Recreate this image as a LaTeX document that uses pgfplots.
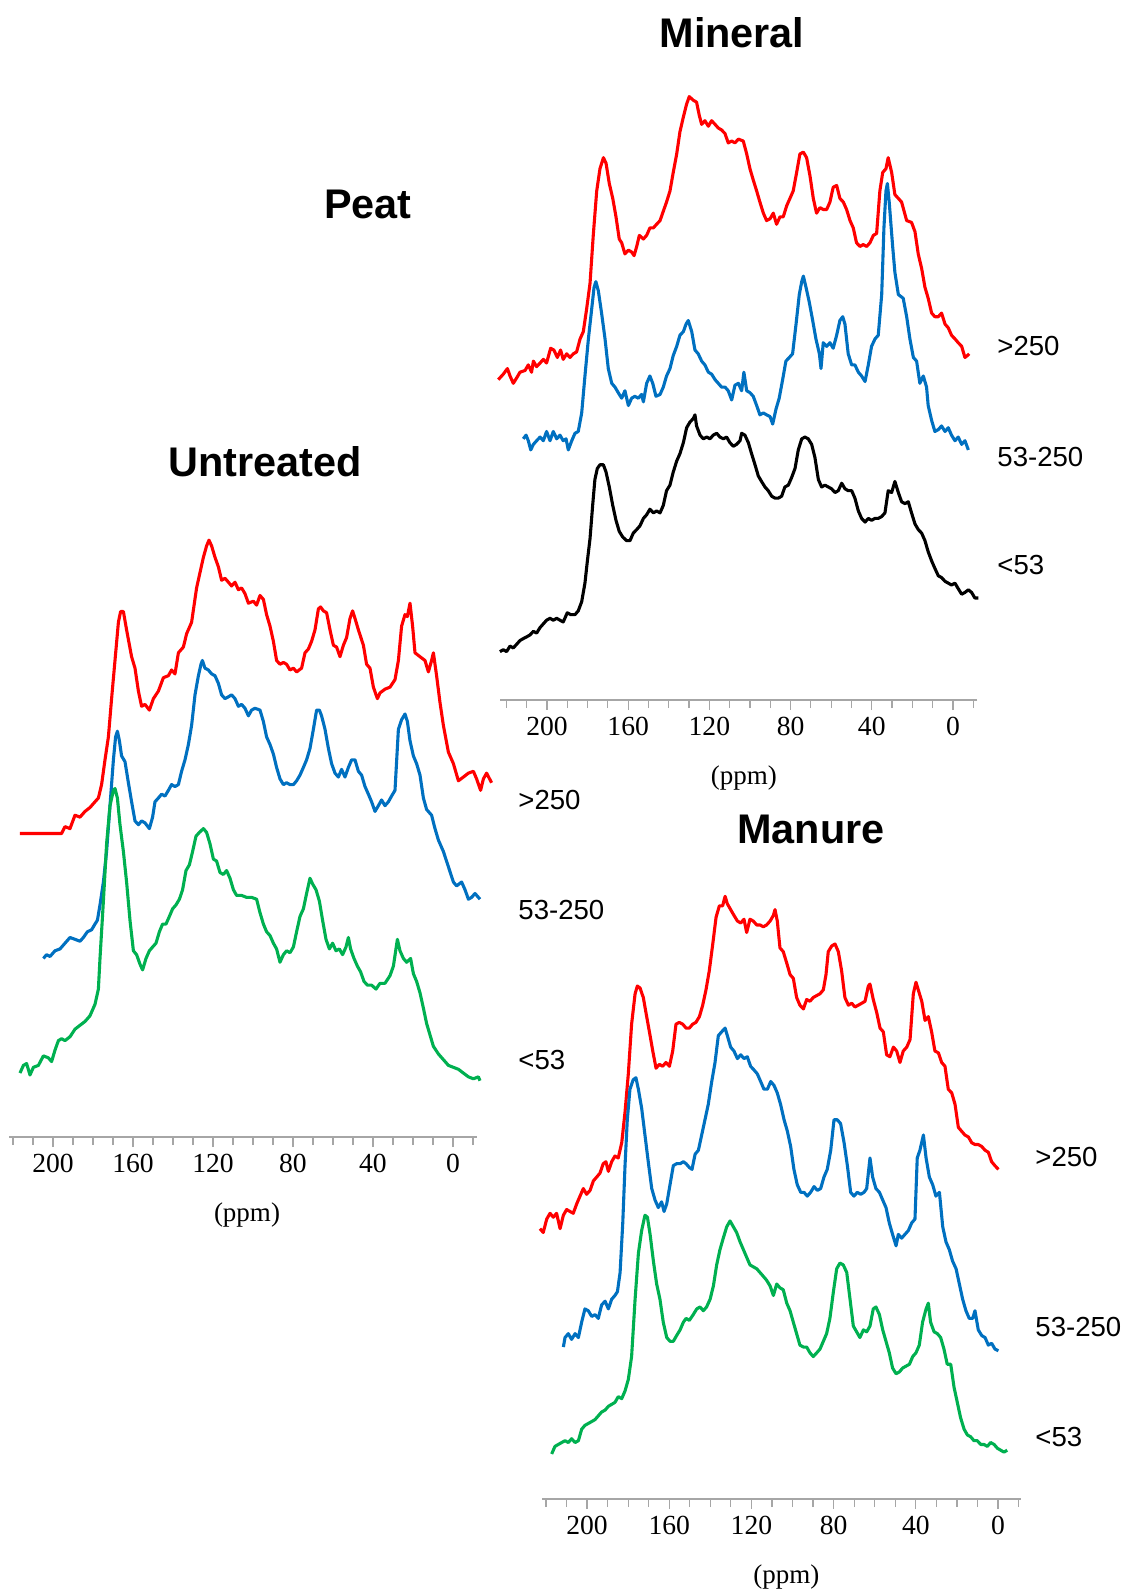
\documentclass[border=0pt]{standalone}
\usepackage{fontspec}
\setmainfont{Liberation Serif}
\newfontfamily\arial{Liberation Sans}
\usepackage{pgfplots}
\pgfplotsset{compat=1.18}
\definecolor{cred}{HTML}{FF0000}
\definecolor{cblue}{HTML}{0070C0}
\definecolor{cgreen}{HTML}{00B050}
\definecolor{axgray}{HTML}{A6A6A6}
\pgfplotsset{nmr/.style={scale only axis, clip=false, x dir=reverse,
  axis y line=none, axis x line=bottom,
  x axis line style={-, draw=axgray, line width=0.6pt},
  tick align=outside, xtick={0,40,...,200},
  minor xtick={-10,10,20,30,50,60,70,90,100,110,130,140,150,170,180,190,210,220},
  major tick length=5pt, minor tick length=4pt,
  tick style={draw=axgray, line width=0.6pt},
  xticklabel style={font=\fontsize{13.8}{14}\selectfont, text=black},
  /pgf/number format/assume math mode=true,
  ytick=\empty, anchor=south west},
  spec/.style={line width=1.55pt, line join=round, mark=none}}
\begin{document}
\begin{tikzpicture}
\useasboundingbox (0,0) rectangle (562.5pt,-797pt);
% ---------------- Untreated ----------------
\begin{axis}[nmr, at={(4.5pt,-568.5pt)}, width=234pt, height=320.9pt,
  xmin=-12, xmax=222, ymin=81.2, ymax=641.2]
\addplot[spec, cred] coordinates {(216.5,346) (195.7,346) (194.0,352) (191.5,350.3) (189.0,362) (186.5,360.3) (184.0,365.3) (181.5,368.7) (179.0,373.7) (177.3,377) (175.7,388.7) (174.0,410.3) (172.3,430.3) (170.7,463.7) (169.0,497) (167.3,530.3) (166.2,539.7) (164.8,539.7) (163.2,523.7) (160.7,500.3) (159.0,490.3) (157.3,470.3) (155.7,457) (154.0,458.7) (151.8,453.7) (149.8,463.7) (147.3,470.3) (144.8,482) (142.3,483.7) (140.7,488.7) (139.0,485.3) (137.3,503.7) (134.8,508.7) (133.2,520.3) (130.7,530.3) (128.2,560.3) (126.5,573.7) (124.8,587) (123.2,597) (122.0,602) (120.7,597) (119.0,587) (117.3,578.7) (115.7,567) (114.0,568.7) (112.3,565.3) (110.7,562) (109.0,565.3) (107.3,558.7) (105.7,560.3) (104.0,555.3) (102.3,547) (99.8,548.7) (98.2,545.3) (96.5,553.7) (94.8,550.3) (93.2,537) (91.5,527) (89.8,513.7) (88.2,497) (86.5,493.7) (84.8,495.3) (83.2,493.7) (81.5,488.7) (79.8,490.3) (78.2,487) (75.7,490.3) (74.0,503.7) (72.3,507) (70.7,513.7) (69.0,523.7) (67.3,542) (66.2,543.7) (64.8,540.3) (63.2,538.7) (61.5,523.7) (59.8,510.3) (58.2,508.7) (56.5,500.3) (54.8,510.3) (53.2,517) (51.5,533.7) (50.2,540.3) (49.0,533.7) (47.3,523.7) (44.8,510.3) (43.2,493.7) (41.5,490.3) (39.8,473.7) (37.8,463.7) (36.5,468.7) (34.0,472) (31.5,473.7) (29.0,480.3) (27.3,497) (25.7,527) (24.0,537) (22.8,535.3) (21.5,547) (20.2,527) (19.0,503.7) (16.5,500.3) (14.0,497) (12.3,487) (10.7,497) (9.8,503.7) (8.2,483.7) (6.5,460.3) (4.8,440.3) (2.3,417) (-0.2,407) (-2.7,392) (-5.2,395.3) (-7.7,398.7) (-10.2,400.3) (-11.8,393.7) (-13.8,383.7) (-15.2,393.7) (-16.8,398.7) (-19.3,390.3)};
\addplot[spec, cblue] coordinates {(204.8,237) (203.2,240.3) (201.5,238.7) (199.0,243.7) (196.5,245.3) (194.0,250.3) (191.5,255.3) (189.0,253.7) (186.5,252) (184.8,255.3) (182.8,260.3) (180.7,262) (179.0,267) (177.8,270.3) (176.5,283.7) (174.8,303.7) (173.2,330.3) (171.5,370.3) (169.8,410.3) (168.7,430.3) (167.8,435.3) (166.8,427) (165.7,413.7) (164.0,408.7) (162.3,390.3) (160.7,373.7) (159.0,357) (157.3,353.7) (155.7,357) (154.0,355.3) (151.8,350.3) (150.2,360.3) (149.0,373.7) (147.3,377) (145.7,380.3) (144.0,378.7) (142.3,383.7) (140.7,388.7) (139.0,387) (137.3,388.7) (135.7,400.3) (134.0,410.3) (132.3,423.7) (130.7,440.3) (129.0,467) (127.3,483.7) (126.0,493.7) (125.3,497) (124.0,490.3) (122.3,488.7) (120.7,485.3) (119.0,483.7) (117.3,477) (115.7,467) (114.0,463.7) (112.3,465.3) (110.7,467) (109.0,463.7) (107.3,457) (105.7,458.7) (104.0,455.3) (102.3,448.7) (100.7,453.7) (99.0,455.3) (96.5,453.7) (94.8,443.7) (93.2,430.3) (91.5,423.7) (89.8,415.3) (88.2,403.7) (86.5,393.7) (84.8,388.7) (83.2,390.3) (81.5,388.7) (79.8,388.7) (78.2,392) (76.5,397) (74.8,403.7) (73.2,410.3) (71.5,420.3) (69.8,437) (68.2,453.7) (66.8,453.7) (65.7,448.7) (64.0,437) (62.3,420.3) (60.7,407) (59.0,398.7) (57.3,395.3) (55.7,402) (54.0,395.3) (52.3,403.7) (50.7,410.3) (49.0,410.3) (47.3,400.3) (45.7,397) (44.0,387) (42.3,380.3) (40.7,373.7) (39.0,365.3) (37.3,370.3) (35.7,375.3) (34.0,370.3) (32.3,373.7) (30.7,378.7) (29.0,383.7) (27.3,437) (25.7,445.3) (24.0,450.3) (22.8,443.7) (21.5,427) (19.8,413.7) (18.2,407) (16.5,397) (14.8,377) (13.2,367) (10.7,362) (9.0,350.3) (7.3,340.3) (4.8,330.3) (2.3,317) (-0.2,303.7) (-1.8,300.3) (-4.3,303.7) (-6.0,297) (-7.7,288.7) (-9.3,290.3) (-11.0,293.7) (-13.5,288.7)};
\addplot[spec, cgreen] coordinates {(216.5,137) (214.8,143.7) (213.2,145.3) (211.5,135.3) (209.8,142) (207.3,143.7) (204.8,152) (202.3,150.3) (200.7,147) (199.0,157) (197.3,165.3) (195.7,167) (194.0,165.3) (191.5,168.7) (189.0,175.3) (186.5,178.7) (184.0,182) (181.5,187) (179.0,197) (177.3,210.3) (176.5,237) (174.8,287) (173.2,337) (171.5,370.3) (169.8,383.7) (169.0,385.3) (167.8,377) (166.5,353.7) (164.8,330.3) (163.2,303.7) (161.5,270.3) (159.8,243.7) (158.2,240.3) (156.5,232) (155.2,227) (153.5,237) (151.8,243.7) (150.2,247) (148.5,250.3) (146.8,260.3) (145.2,267) (143.5,267) (141.8,273.7) (140.2,280.3) (138.5,283.7) (136.8,288.7) (135.2,297) (133.5,313.7) (131.8,318.7) (130.2,330.3) (128.5,343.7) (126.8,347) (124.8,350.3) (123.2,347) (121.5,337) (119.8,323.7) (118.2,322) (116.5,312) (114.8,310.3) (113.2,313.7) (111.5,307) (109.8,297) (108.2,292) (105.7,292) (103.2,290.3) (100.7,290.3) (98.2,288.7) (96.5,277) (94.8,267) (93.2,260.3) (91.5,257) (89.8,250.3) (88.2,245.3) (86.5,233.7) (84.8,240.3) (83.2,243.7) (81.5,242) (79.8,247) (78.2,260.3) (76.5,273.7) (74.8,280.3) (73.2,293.7) (71.5,307) (70.2,302) (68.5,297) (66.8,287) (65.2,270.3) (63.5,253.7) (61.8,245.3) (60.2,250.3) (58.5,243.7) (56.8,245.3) (55.2,240.3) (53.5,247) (52.3,255.3) (51.2,245.3) (49.5,237) (47.8,230.3) (46.2,225.3) (44.5,217) (42.8,213.7) (40.7,213.7) (38.5,210.3) (36.5,215.3) (34.0,215.3) (31.5,222) (29.8,230.3) (27.8,253.7) (26.5,243.7) (24.8,237) (23.2,233.7) (21.2,237) (19.8,223.7) (18.2,217) (16.5,207) (14.8,193.7) (13.2,180.3) (11.5,170.3) (9.8,160.3) (7.3,153.7) (4.8,148.7) (2.3,143.7) (-0.2,142) (-2.7,140.3) (-5.2,137) (-7.7,133.7) (-10.2,132) (-12.7,133.7) (-13.5,130.3)};
\node[font=\fontsize{13.5}{14}\selectfont, yshift=-39pt] at (axis cs:103,81.2) {(ppm)};
\end{axis}
% ---------------- Mineral ----------------
\begin{axis}[nmr, at={(250.15pt,-350pt)}, width=238.5pt, height=310.8pt,
  xmin=-12, xmax=223, ymin=61.4, ymax=621.4]
\addplot[spec, cred] coordinates {(224.0,350) (221.5,355) (219.5,360) (218.2,353.3) (216.6,346.7) (214.9,351.7) (213.3,356.7) (210.8,358.3) (209.2,363.3) (207.6,356.7) (206.7,366.7) (205.1,361.7) (203.4,365) (201.8,368.3) (200.2,365) (198.2,378.3) (196.6,376.7) (194.9,370) (193.3,376.7) (192.0,368.3) (190.3,373.3) (188.7,370) (187.0,373.3) (185.4,375) (183.7,386.7) (182.1,393.3) (180.5,413.3) (178.8,436.7) (177.2,480) (175.5,520) (173.9,540) (172.2,550) (170.9,545) (169.3,526.7) (167.6,513.3) (166.0,496.7) (164.4,476.7) (163.2,473.3) (161.6,463.3) (159.9,466.7) (158.3,465) (157.1,461.7) (155.8,470) (154.5,480) (152.5,476.7) (150.9,480) (149.3,486.7) (147.6,486.7) (146.0,490) (144.3,493.3) (142.7,501.7) (141.1,510) (139.4,520) (137.8,536.7) (136.1,553.3) (134.5,573.3) (132.8,586.7) (131.2,598.3) (129.9,605) (127.9,601.7) (126.3,600) (125.0,588.3) (123.8,580) (122.2,583.3) (120.5,578.3) (118.9,583.3) (117.2,580) (115.6,576.7) (114.0,575) (112.3,571.7) (110.7,563.3) (109.0,565) (107.4,563.3) (105.7,566.7) (103.3,565) (101.6,553.3) (100.0,540) (98.4,530) (96.7,520) (95.1,510) (93.4,500) (91.8,493.3) (90.1,495) (88.5,500) (86.9,490) (85.2,496.7) (83.6,496.7) (81.9,506.7) (80.3,513.3) (78.7,520) (77.0,536.7) (75.4,553.3) (73.7,555) (72.1,550) (70.4,533.3) (68.8,513.3) (67.2,500) (65.5,505) (63.9,503.3) (62.2,503.3) (60.6,510) (59.0,523.3) (57.3,525) (55.7,513.3) (54.0,510) (52.4,503.3) (50.7,493.3) (49.1,486.7) (47.5,473.3) (45.8,470) (44.2,471.7) (42.5,470) (40.9,473.3) (39.2,480) (37.6,481.7) (36.0,520) (34.6,536.7) (33.0,540) (31.9,550) (30.2,536.7) (28.6,516.7) (26.9,513.3) (25.3,510) (22.8,493.3) (20.4,491.7) (18.7,483.3) (17.1,463.3) (15.4,450) (13.8,433.3) (12.2,423.3) (10.5,410) (8.9,406.7) (7.2,406.7) (5.6,410) (3.9,400) (2.3,396.7) (0.7,390) (-1.0,386.7) (-2.6,383.3) (-4.3,380) (-5.9,370) (-7.1,371.7) (-8.0,373.3)};
\addplot[spec, cblue] coordinates {(211.7,296.7) (210.3,300) (209.2,295) (208.0,286.7) (206.7,291.7) (205.1,295) (203.4,298.3) (201.8,295) (200.2,303.3) (198.5,295) (196.9,303.3) (195.2,296.7) (193.6,300) (192.0,295) (190.6,296.7) (189.5,286.7) (187.8,295) (186.2,301.7) (184.6,303.3) (182.9,320) (181.3,353.3) (179.6,386.7) (178.0,413.3) (176.8,433.3) (175.9,438.3) (174.7,430) (173.1,410) (171.4,386.7) (169.8,360) (168.1,346.7) (166.5,343.3) (164.9,338.3) (163.2,333.3) (161.6,340) (159.9,326.7) (158.3,333.3) (156.7,335) (155.0,333.3) (153.4,336.7) (152.5,330) (150.9,346.7) (149.3,353.3) (147.9,346.7) (146.3,335) (144.3,336.7) (142.7,343.3) (141.1,353.3) (139.4,360) (137.8,371.7) (136.1,380) (134.5,390) (132.8,393.3) (131.5,400) (130.4,403.3) (128.7,393.3) (127.1,376.7) (125.5,373.3) (123.8,366.7) (122.2,363.3) (120.5,356.7) (118.9,355) (117.2,350) (115.6,346.7) (114.0,343.3) (112.3,343.3) (110.7,340) (109.0,331.7) (107.4,345) (105.7,346.7) (104.1,340) (103.0,356.7) (101.6,340) (100.0,338.3) (98.4,335) (96.7,326.7) (95.1,318.3) (93.4,320) (91.8,318.3) (90.1,316.7) (88.8,310) (87.2,323.3) (85.6,333.3) (83.9,350) (82.3,366.7) (80.6,370) (79.0,373.3) (77.3,400) (75.7,426.7) (74.5,438.3) (73.7,443.3) (72.4,433.3) (70.8,420) (69.1,403.3) (67.5,386.7) (65.8,373.3) (65.0,360) (63.9,383.3) (62.2,380) (60.6,383.3) (59.0,378.3) (57.3,390) (55.7,403.3) (54.3,406.7) (53.2,400) (51.6,373.3) (49.9,363.3) (48.3,363.3) (46.6,356.7) (45.0,353.3) (43.3,348.3) (41.7,363.3) (40.1,380) (38.4,386.7) (36.8,390) (35.1,426.7) (34.0,486.7) (33.0,520) (32.3,526.7) (31.4,510) (29.7,470) (28.6,446.7) (26.9,426.7) (24.5,423.3) (22.8,406.7) (21.2,386.7) (19.5,370) (17.9,366.7) (16.3,346.7) (14.6,353.3) (13.0,343.3) (12.2,326.7) (10.5,313.3) (8.9,303.3) (7.2,305) (5.6,308.3) (3.9,303.3) (2.3,306.7) (0.7,300) (-1.0,295) (-2.6,298.3) (-4.3,291.7) (-5.9,295) (-7.6,286.7)};
\addplot[spec, black] coordinates {(223.2,105) (221.5,106.7) (219.9,105) (218.2,110) (216.6,108.3) (214.9,111.7) (213.3,115) (211.7,116.7) (210.0,118.3) (208.4,120) (206.7,123.3) (205.1,121.7) (203.4,126.7) (201.8,130) (200.2,133.3) (198.5,135) (196.9,133.3) (195.2,135) (193.6,133.3) (192.0,131.7) (190.0,140) (188.3,138.3) (186.2,138.3) (184.6,141.7) (182.9,150) (181.3,166.7) (180.1,186.7) (178.8,206.7) (177.5,236.7) (176.4,260) (175.2,270) (173.9,273.3) (172.2,273.3) (170.9,266.7) (169.3,253.3) (167.6,236.7) (166.0,223.3) (164.4,213.3) (162.7,208.3) (160.8,205) (159.1,205) (157.5,211.7) (155.8,215) (154.2,218.3) (152.5,225) (150.9,228.3) (149.3,233.3) (147.6,230) (146.0,231.7) (144.3,230) (142.7,236.7) (141.1,250) (139.4,255) (137.8,266.7) (136.1,276.7) (134.5,283.3) (132.8,293.3) (131.2,306.7) (129.6,311.7) (127.9,315) (127.1,318.3) (126.3,308.3) (124.6,300) (123.0,296.7) (121.3,298.3) (119.7,296.7) (118.1,300) (116.4,301.7) (114.8,298.3) (113.1,296.7) (111.5,298.3) (109.9,293.3) (108.2,290) (106.6,291.7) (104.9,295) (104.1,301.7) (102.5,300) (100.8,293.3) (99.2,283.3) (97.5,273.3) (95.9,263.3) (94.3,258.3) (92.6,253.3) (91.0,250) (89.3,245) (87.7,243.3) (86.0,243.3) (84.4,245) (82.8,253.3) (81.1,255) (79.5,261.7) (77.8,270) (76.2,286.7) (74.5,296.7) (72.9,298.3) (71.3,296.7) (69.6,291.7) (68.0,280) (66.3,260) (64.7,253.3) (63.1,255) (61.4,253.3) (59.8,251.7) (58.1,248.3) (56.5,250) (54.8,256.7) (53.2,251.7) (51.6,250) (49.9,250) (48.3,243.3) (46.6,231.7) (45.0,225) (43.3,221.7) (41.7,225) (40.1,223.3) (38.4,225) (36.8,225) (35.1,226.7) (33.5,230) (31.9,250) (30.2,248.3) (28.6,258.3) (26.9,248.3) (25.3,240) (23.6,238.3) (22.0,240) (20.4,230) (18.7,220) (17.1,215) (15.4,211.7) (13.8,205) (12.2,195) (10.5,186.7) (8.9,180) (7.2,173.3) (5.6,171.7) (3.9,168.3) (2.3,166.7) (0.7,165) (-1.0,166.7) (-2.6,161.7) (-4.3,156.7) (-5.9,158.3) (-7.6,160.7) (-9.2,158.3) (-10.8,153.3) (-12.5,153.3)};
\node[font=\fontsize{13.5}{14}\selectfont, yshift=-39pt] at (axis cs:103,61.4) {(ppm)};
\end{axis}
% ---------------- Manure ----------------
\begin{axis}[nmr, at={(270.9pt,-749.5pt)}, width=239.4pt, height=320.9pt,
  xmin=-11, xmax=222, ymin=81.4, ymax=641.4]
\addplot[spec, cred] coordinates {(222.9,317.3) (221.3,314) (219.6,325.7) (218.0,330.7) (216.4,327.3) (214.8,330.7) (213.1,317.3) (211.5,329) (209.9,334) (208.3,332.3) (206.7,330.7) (205.0,339) (203.4,345.7) (201.8,352.3) (200.2,347.3) (198.5,350.7) (196.9,359) (195.3,362.3) (193.7,365.7) (192.1,374) (190.8,375.7) (189.6,367.3) (188.0,375.7) (186.4,380.7) (184.8,379) (183.1,392.3) (181.5,419) (179.9,452.3) (178.3,495.7) (176.6,522.3) (175.5,529) (174.2,527.3) (172.6,519) (171.3,505.7) (169.3,485.7) (168.0,472.3) (166.4,457.3) (164.8,460.7) (163.2,459) (161.6,462.3) (159.9,459) (158.3,472.3) (156.7,495.7) (155.1,497.3) (153.4,495.7) (151.8,492.3) (150.2,492.3) (148.6,495.7) (147.0,497.3) (145.3,502.3) (143.7,512.3) (142.1,525.7) (140.5,542.3) (138.8,565.7) (137.2,589) (135.6,599) (134.0,599) (132.8,607.3) (131.7,600.7) (130.1,595.7) (128.5,590.7) (126.8,585.7) (125.2,584) (123.6,587.3) (122.3,575.7) (120.7,587.3) (119.1,585.7) (117.4,582.3) (115.8,582.3) (114.2,580.7) (112.6,582.3) (110.9,585.7) (109.3,590.7) (108.5,595.7) (107.4,585.7) (106.1,562.3) (104.5,559) (102.8,549) (101.2,539) (99.6,535.7) (98.0,519) (96.4,512.3) (94.7,509) (93.1,517.3) (91.5,515.7) (89.9,519) (88.2,520.7) (86.6,522.3) (85.0,525.7) (83.7,539) (82.6,559) (80.9,564) (79.3,565.7) (77.7,559) (76.1,542.3) (74.5,519) (72.8,512.3) (71.2,514) (69.6,510.7) (68.0,512.3) (66.3,514) (64.7,515.7) (63.1,529) (62.3,530.7) (60.7,517.3) (59.0,505.7) (57.4,492.3) (55.8,489) (54.2,469) (52.6,467.3) (50.9,475.7) (49.3,472.3) (47.7,462.3) (46.1,472.3) (44.4,475.7) (42.8,482.3) (41.2,522.3) (39.9,532.3) (38.8,525.7) (37.1,515.7) (35.5,499) (33.9,502.3) (32.3,489) (30.7,472.3) (29.0,470.7) (27.4,462.3) (25.8,459) (24.2,439) (22.5,435.7) (20.9,425.7) (19.3,405.7) (17.7,402.3) (16.1,399) (14.4,397.3) (12.8,392.3) (11.2,390.7) (9.6,390.7) (7.9,389) (6.3,385.7) (4.7,384) (3.1,375.7) (1.5,372.3) (-0.2,369)};
\addplot[spec, cblue] coordinates {(211.5,214) (210.7,222.3) (209.1,225.7) (207.5,220.7) (205.8,225.7) (204.2,222.3) (202.6,235.7) (201.0,247.3) (199.4,245.7) (197.7,240.7) (196.1,242.3) (194.5,239) (192.9,250.7) (191.2,254) (189.6,247.3) (188.0,255.7) (186.4,259) (185.2,262.3) (183.9,279) (182.6,322.3) (181.5,372.3) (180.4,412.3) (179.1,439) (177.5,447.3) (176.2,449) (175.0,439) (173.4,422.3) (171.8,399) (170.2,375.7) (168.5,352.3) (166.9,342.3) (165.3,335.7) (163.7,340.7) (162.5,332.3) (161.2,339) (159.6,355.7) (158.0,372.3) (156.4,374) (154.7,374) (153.1,375.7) (151.8,374) (150.2,370.7) (148.9,369) (147.4,382.3) (145.8,385.7) (144.2,399) (142.6,412.3) (141.0,425.7) (139.3,445.7) (137.7,462.3) (136.1,485.7) (134.5,489) (132.8,492.3) (131.7,485.7) (130.1,475.7) (128.5,472.3) (126.8,465.7) (125.2,469) (123.6,465.7) (122.0,467.3) (120.4,459) (118.7,455.7) (117.1,452.3) (115.5,445.7) (113.9,439) (112.2,439) (110.6,445.7) (109.0,442.3) (107.4,435.7) (105.8,425.7) (104.1,412.3) (102.5,402.3) (100.9,389) (99.3,369) (97.7,355.7) (96.0,349) (94.4,349) (92.8,345.7) (91.2,349) (89.5,354) (87.9,350.7) (86.3,352.3) (84.7,362.3) (83.1,369) (81.4,385.7) (79.8,412.3) (78.2,412.3) (76.6,409) (74.9,392.3) (73.3,372.3) (71.7,349) (70.1,345.7) (68.5,349) (66.8,347.3) (65.2,349) (63.9,352.3) (62.3,379) (61.0,362.3) (59.4,352.3) (57.7,349) (56.1,342.3) (54.5,335.7) (52.9,322.3) (51.3,312.3) (49.6,302.3) (48.5,312.3) (46.9,309) (45.3,312.3) (43.6,315.7) (42.0,322.3) (40.4,325.7) (39.3,379) (38.0,385.7) (36.3,399) (35.0,379) (33.4,362.3) (31.8,355.7) (30.2,345.7) (28.5,349) (26.9,319) (25.3,305.7) (23.7,299) (22.1,289) (20.4,282.3) (18.8,269) (17.2,255.7) (15.6,245.7) (14.0,239) (12.3,239) (11.2,245.7) (9.6,229) (7.9,224) (6.3,222.3) (4.7,215.7) (3.1,217.3) (1.5,212.3) (-0.2,210.7)};
\addplot[spec, cgreen] coordinates {(217.2,120.7) (215.6,127.3) (214.0,129) (212.3,130.7) (210.7,132.3) (209.1,130.7) (207.5,134) (205.8,130.7) (204.2,132.3) (202.6,142.3) (201.0,145.7) (199.4,147.3) (197.7,149) (196.1,150.7) (194.5,154) (192.9,157.3) (191.2,159) (189.6,162.3) (188.0,164) (186.4,165.7) (184.8,170.7) (183.1,169) (181.5,175.7) (179.9,185.7) (178.3,205.7) (176.6,255.7) (175.0,295.7) (173.4,315.7) (171.8,329) (170.6,327.3) (169.3,312.3) (167.7,289) (166.1,269) (164.5,255.7) (162.9,235.7) (161.2,222.3) (159.6,219) (158.0,219) (156.4,224) (154.7,229) (153.1,235.7) (151.8,239) (150.2,237.3) (148.3,242.3) (146.6,247.3) (145.0,249) (143.4,245.7) (141.8,249) (140.1,255.7) (138.5,267.3) (136.9,285.7) (135.3,299) (133.7,309) (132.0,319) (130.4,324) (128.8,319) (127.2,314) (125.5,305.7) (123.9,299) (122.3,292.3) (120.7,285.7) (119.1,284) (117.4,282.3) (115.8,279) (114.2,275.7) (112.6,272.3) (110.9,267.3) (109.3,259) (107.7,269) (106.1,265.7) (104.5,264) (102.8,252.3) (101.2,245.7) (99.6,235.7) (98.0,225.7) (96.4,215.7) (94.7,214) (93.1,214) (91.5,209) (89.9,205.7) (88.2,209) (86.6,212.3) (85.0,219) (83.4,225.7) (81.8,239) (80.1,262.3) (78.5,282.3) (76.9,287.3) (75.3,285.7) (73.6,279) (72.0,255.7) (70.4,232.3) (68.8,227.3) (67.2,222.3) (65.5,229) (63.9,227.3) (62.3,232.3) (60.7,247.3) (59.4,249) (57.7,242.3) (56.1,229) (54.5,219) (52.9,209) (51.3,195.7) (49.6,190.7) (48.0,192.3) (46.4,195.7) (44.8,197.3) (43.1,199) (41.5,205.7) (39.9,209) (38.3,215.7) (36.7,235.7) (35.0,247.3) (33.9,252.3) (32.8,235.7) (31.1,227.3) (29.5,225.7) (27.9,222.3) (26.3,212.3) (24.7,199) (23.0,199) (21.4,179) (19.8,165.7) (18.2,152.3) (16.5,142.3) (14.9,137.3) (13.3,135.7) (11.7,132.3) (10.1,132.3) (8.4,129) (6.8,129) (5.2,127.3) (3.6,130.7) (1.9,129) (0.3,125.7) (-1.3,124) (-2.9,122.3) (-4.5,124)};
\node[font=\fontsize{13.5}{14}\selectfont, yshift=-39pt] at (axis cs:103,81.4) {(ppm)};
\end{axis}
% ---------------- titles and labels ----------------
\begin{scope}[every node/.style={inner sep=0pt}]
\node[font=\arial\bfseries\fontsize{20.7}{24}\selectfont] at (184pt,-102pt) {Peat};
\node[font=\arial\bfseries\fontsize{20.7}{24}\selectfont] at (366pt,-16.5pt) {Mineral};
\node[font=\arial\bfseries\fontsize{20.7}{24}\selectfont] at (132.5pt,-231pt) {Untreated};
\node[font=\arial\bfseries\fontsize{20.7}{24}\selectfont] at (405.5pt,-414.5pt) {Manure};
\node[font=\arial\fontsize{13.8}{16}\selectfont, anchor=west] at (259pt,-400pt) {>250};
\node[font=\arial\fontsize{13.8}{16}\selectfont, anchor=west] at (259pt,-455pt) {53-250};
\node[font=\arial\fontsize{13.8}{16}\selectfont, anchor=west] at (259pt,-530pt) {<53};
\node[font=\arial\fontsize{13.8}{16}\selectfont, anchor=west] at (498.5pt,-173pt) {>250};
\node[font=\arial\fontsize{13.8}{16}\selectfont, anchor=west] at (498.5pt,-228.5pt) {53-250};
\node[font=\arial\fontsize{13.8}{16}\selectfont, anchor=west] at (498.5pt,-282.5pt) {<53};
\node[font=\arial\fontsize{13.8}{16}\selectfont, anchor=west] at (517.5pt,-578.5pt) {>250};
\node[font=\arial\fontsize{13.8}{16}\selectfont, anchor=west] at (517.5pt,-663.5pt) {53-250};
\node[font=\arial\fontsize{13.8}{16}\selectfont, anchor=west] at (517.5pt,-718.5pt) {<53};
\end{scope}
\end{tikzpicture}
\end{document}
